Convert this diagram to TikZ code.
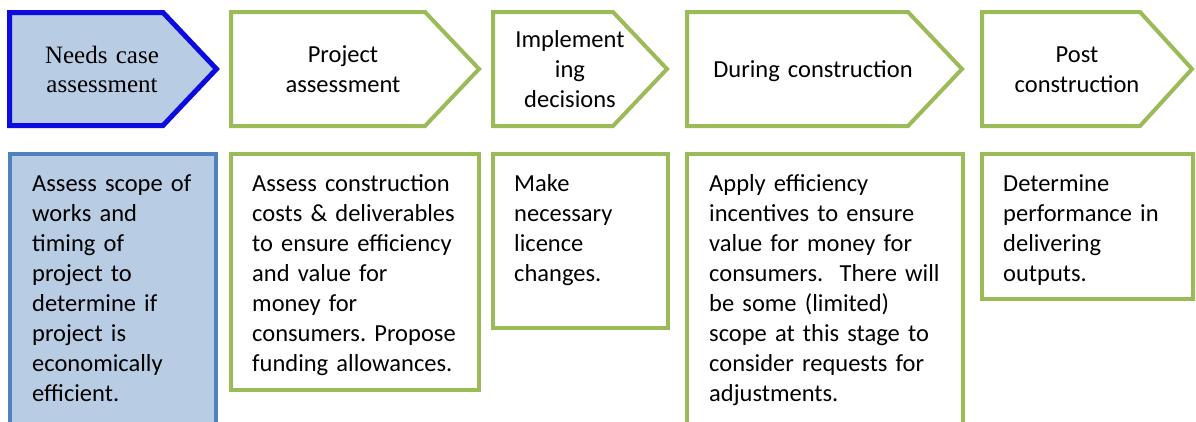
\documentclass[tikz,border=0pt]{standalone}
\usepackage{fontspec}
\setmainfont{Carlito}
\newfontfamily\timesfont{Liberation Serif}
\frenchspacing
\definecolor{stgreen}{HTML}{9BBB59}
\definecolor{stblue}{RGB}{12,12,225}
\definecolor{boxblue}{HTML}{4F81BD}
\definecolor{fillblue}{HTML}{B8CCE4}
\tikzset{
  greenshape/.style={draw=stgreen, line width=4pt, line join=miter, fill=white},
  blueshape/.style={draw=stblue, line width=5pt, line join=miter, fill=fillblue},
  bluebox/.style={draw=boxblue, line width=4pt, fill=fillblue},
  headtext/.style={inner sep=0pt, anchor=base, text width=240pt, align=center,
    font=\fontsize{24.5}{30}\selectfont},
  bodytext/.style={inner sep=0pt, anchor=base west, text width=260pt, align=left,
    font=\fontsize{24.5}{30}\selectfont}
}
\begin{document}
\begin{tikzpicture}[x=1pt,y=-1pt]
\useasboundingbox (0,0) rectangle (1196,421);
\clip (0,0) rectangle (1196,421);

% stage chevrons
\draw[blueshape]  (9.5,12.5) -- (163,12.5) -- (216.5,69) -- (163,125.5) -- (9.5,125.5) -- cycle;
\draw[greenshape] (231,12) -- (425,12) -- (479,69) -- (425,126) -- (231,126) -- cycle;
\draw[greenshape] (493,12) -- (613,12) -- (667,69) -- (613,126) -- (493,126) -- cycle;
\draw[greenshape] (687,12) -- (908,12) -- (962,69) -- (908,126) -- (687,126) -- cycle;
\draw[greenshape] (982,12) -- (1140,12) -- (1192,69) -- (1140,126) -- (982,126) -- cycle;

% description boxes
\draw[bluebox]    (9.5,154) rectangle (216,440);
\draw[greenshape] (231,154) rectangle (479,390);
\draw[greenshape] (493,154) rectangle (668,328);
\draw[greenshape] (687,154) rectangle (963,440);
\draw[greenshape] (982,154) rectangle (1193,299);

% stage titles
\node[headtext, font=\timesfont\fontsize{25}{29.5}\selectfont] (t1) at (102,63) {Needs case\\assessment};
\node[headtext] (t2) at (343,62) {Project\\assessment};
\node[headtext] (t3) at (570,47) {Implement\\ing\\decisions};
\node[headtext] (t4) at (813,77) {During construction};
\node[headtext] (t5) at (1077,62) {Post\\construction};

% stage descriptions
\node[bodytext] (d1) at (32,191) {Assess scope of\\works and\\timing of\\project to\\determine if\\project is\\economically\\efficient.};
\node[bodytext] (d2) at (252,191) {Assess construction\\costs \& deliverables\\to ensure efficiency\\and value for\\money for\\consumers. Propose\\funding allowances.};
\node[bodytext] (d3) at (514,191) {Make\\necessary\\licence\\changes.};
\node[bodytext] (d4) at (709,191) {Apply efficiency\\incentives to ensure\\value for money for\\consumers.\ \ There will\\be some (limited)\\scope at this stage to\\consider requests for\\adjustments.};
\node[bodytext] (d5) at (1003,191) {Determine\\performance in\\delivering\\outputs.};
\end{tikzpicture}
\end{document}
